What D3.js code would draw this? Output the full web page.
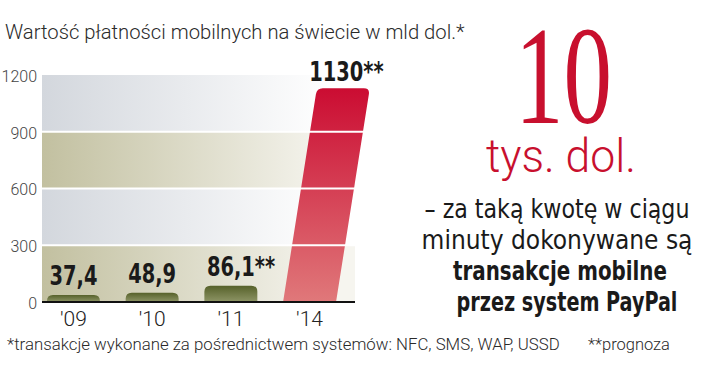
<!DOCTYPE html>
<html>
<head>
<meta charset="utf-8">
<script src="https://cdn.jsdelivr.net/npm/d3@7"></script>
<style>
  html, body { margin: 0; padding: 0; background: #fff; }
  svg { display: block; }
</style>
</head>
<body>
<svg id="chart" width="720" height="374"></svg>
<script>
// ---- data ----
const categories = ["'09", "'10", "'11", "'14"];
const values = [37.4, 48.9, 86.1, 1130];
const valueLabels = ["37,4", "48,9", "86,1", "1130"];
const forecast = [false, false, true, true];
const yTicks = [0, 300, 600, 900, 1200];
const title = "Wartość płatności mobilnych na świecie w mld dol.*";
const footnote1 = "*transakcje wykonane za pośrednictwem systemów: NFC, SMS, WAP, USSD";
const footnote2 = "**prognoza";
const bigNumber = "10";
const bigUnit = "tys. dol.";
const sideLines = ["– za taką kwotę w ciągu", "minuty dokonywane są", "transakcje mobilne", "przez system PayPal"];
const sideBold = [false, false, true, true];

// ---- layout ----
const svg = d3.select("#chart");
const light = "Roboto, 'Open Sans', sans-serif";
const narrow = "'Liberation Sans Narrow', 'DejaVu Sans Condensed', 'Roboto', sans-serif";
const red = "#c8102e";

const y = d3.scaleLinear().domain([0, 1200]).range([302, 75]);
const x = d3.scaleBand().domain(categories).range([42, 341]).paddingInner(0.327).paddingOuter(0.063);
const plotLeft = 42, plotRight = 355;

// text placed at (px, py) and squeezed horizontally to a given width
function fitText(str, px, py, width, anchor, attrs) {
  const t = svg.append("text").attr("x", 0).attr("y", 0).attr("text-anchor", anchor).text(str);
  Object.entries(attrs).forEach(([k, v]) => t.attr(k, v));
  const w = t.node().getComputedTextLength();
  const sx = width / w;
  t.attr("transform", `translate(${px},${py}) scale(${sx},1)`);
  return t;
}

const defs = svg.append("defs");
function hGrad(id, c1, c2, stopAt) {
  const g = defs.append("linearGradient").attr("id", id)
    .attr("gradientUnits", "userSpaceOnUse").attr("x1", plotLeft).attr("x2", stopAt).attr("y1", 0).attr("y2", 0);
  g.append("stop").attr("offset", 0).attr("stop-color", c1);
  g.append("stop").attr("offset", 1).attr("stop-color", c2);
}
hGrad("bandGrey", "#d3d7dd", "#ffffff", 330);
hGrad("bandKhaki", "#c2c0a0", "#f6f5ef", 330);
function vGrad(id, top, bottom) {
  const g = defs.append("linearGradient").attr("id", id).attr("x1", 0).attr("x2", 0).attr("y1", 0).attr("y2", 1);
  g.append("stop").attr("offset", 0).attr("stop-color", top);
  g.append("stop").attr("offset", 1).attr("stop-color", bottom);
}
vGrad("olive", "#56612a", "#8e9566");
vGrad("redGrad", "#cb0c32", "#e0787a");

// background bands
const bands = d3.pairs(yTicks);
svg.append("g").selectAll("rect").data(bands).join("rect")
  .attr("x", plotLeft).attr("width", plotRight - plotLeft)
  .attr("y", d => y(d[1])).attr("height", d => y(d[0]) - y(d[1]))
  .attr("fill", (d, i) => i % 2 === 0 ? "url(#bandKhaki)" : "url(#bandGrey)");

// bars
const slope = 0.158;
function shear(i) {
  const h = y(0) - y(values[i]);
  return forecast[i] && values[i] > 500 ? h * slope : 0;
}
function barPath(i) {
  const x0 = x(categories[i]), w = x.bandwidth();
  const yb = y(0), yt = y(values[i]);
  const h = yb - yt;
  const s = shear(i);
  const r = Math.min(6, h);
  const k = s / h;
  const p = d3.path();
  p.moveTo(x0, yb);
  p.lineTo(x0 + k * (h - r), yt + r);
  p.quadraticCurveTo(x0 + s, yt, x0 + s + r, yt);
  p.lineTo(x0 + s + w - r, yt);
  p.quadraticCurveTo(x0 + s + w, yt, x0 + w + k * (h - r), yt + r);
  p.lineTo(x0 + w, yb);
  p.closePath();
  return p.toString();
}
svg.append("g").selectAll("path").data(values).join("path")
  .attr("d", (d, i) => barPath(i))
  .attr("fill", (d, i) => d > 500 ? "url(#redGrad)" : "url(#olive)");

// white gridlines over everything
svg.append("g").selectAll("line").data(yTicks.filter(t => t > 0 && t < 1200)).join("line")
  .attr("x1", plotLeft).attr("x2", 366)
  .attr("y1", d => y(d)).attr("y2", d => y(d))
  .attr("stroke", "#fff").attr("stroke-width", 2);

// baseline
svg.append("line").attr("x1", plotLeft).attr("x2", plotRight)
  .attr("y1", y(0)).attr("y2", y(0)).attr("stroke", "#111").attr("stroke-width", 2);

// y axis labels
const yAxis = svg.append("g").attr("transform", "translate(37,0)")
  .call(d3.axisLeft(y).tickValues(yTicks).tickFormat(d3.format("d")).tickSize(0).tickPadding(0));
yAxis.select(".domain").remove();
yAxis.selectAll("text").attr("font-family", light).attr("font-weight", 300)
  .attr("font-size", 16).attr("fill", "#444").attr("dy", "0.4em");

// x axis labels
const xAxis = svg.append("g").attr("transform", `translate(0,${y(0)})`)
  .call(d3.axisBottom(x).tickSize(0).tickPadding(9));
xAxis.select(".domain").remove();
xAxis.selectAll("text").attr("font-family", light).attr("font-weight", 300)
  .attr("font-size", 21).attr("fill", "#222").attr("dy", "0.71em");

// value labels (number centred, "**" appended for forecasts)
const sq = 0.8;
values.forEach((v, i) => {
  const yt = y(v);
  const s = shear(i);
  const cx = x(categories[i]) + x.bandwidth() / 2 + (s ? s - 7 : 0);
  const t = svg.append("text")
    .attr("font-family", narrow).attr("font-weight", 700).attr("font-size", 27)
    .attr("fill", "#1a1a1a").attr("x", 0).attr("y", 0).text(valueLabels[i]);
  const wn = t.node().getComputedTextLength();
  if (forecast[i]) t.append("tspan").text("**");
  t.attr("transform", `translate(${cx - wn * sq / 2},${yt - (s ? 7 : 10)}) scale(${sq},1)`);
});

// title
fitText(title, 5, 39, 460, "start", {"font-family": light, "font-weight": 300, "font-size": 20, "fill": "#2a2a2a"});

// footnotes
fitText(footnote1, 7, 350, 553, "start", {"font-family": light, "font-weight": 300, "font-size": 16, "fill": "#2a2a2a"});
fitText(footnote2, 588, 350, 82, "start", {"font-family": light, "font-weight": 300, "font-size": 16, "fill": "#2a2a2a"});

// right side callout
fitText(bigNumber, 515, 123, 97, "start", {"font-family": "'Liberation Serif', 'DejaVu Serif', serif", "font-size": 140, "fill": red});
fitText(bigUnit, 561, 172, 150, "middle", {"font-family": light, "font-weight": 300, "font-size": 46, "fill": red});
const sideWidths = [265, 271, 214, 221];
const sideCenters = [557, 557, 560, 567];
sideLines.forEach((line, i) => {
  fitText(line, sideCenters[i], 218 + i * 31, sideWidths[i], "middle",
    {"font-family": narrow, "font-weight": sideBold[i] ? 700 : 400, "font-size": 27, "fill": "#1a1a1a"});
});
</script>
</body>
</html>
